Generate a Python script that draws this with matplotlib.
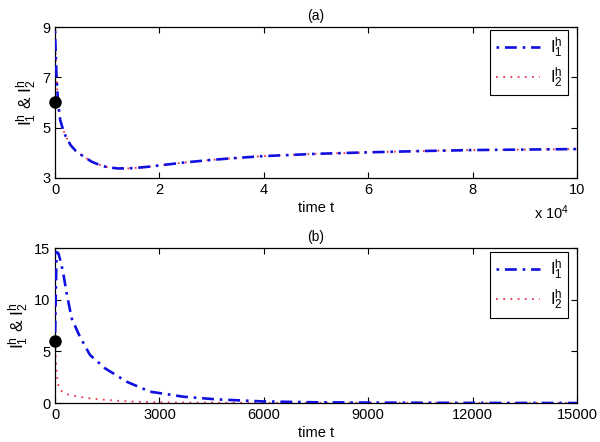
import matplotlib
matplotlib.use("Agg")
import matplotlib.pyplot as plt
from matplotlib.lines import Line2D

plt.rcParams['font.family'] = ['Liberation Sans', 'DejaVu Sans']
plt.rcParams['mathtext.fontset'] = 'custom'
plt.rcParams['mathtext.rm'] = 'Liberation Sans'
plt.rcParams['mathtext.it'] = 'Liberation Sans'

# ---- Panel (a) data ----
t_a = [0, 150, 300, 500, 700, 1000, 1500, 2000, 3000, 4000, 5500, 7000, 8500,
       10000, 12000, 14000, 16000, 18000, 20000, 25000, 30000, 35000, 40000,
       50000, 60000, 70000, 80000, 90000, 100000]
I1_a = [8.85, 7.8, 7.0, 6.3, 5.8, 5.3, 4.95, 4.68, 4.3, 4.07, 3.85, 3.65, 3.52,
        3.43, 3.38, 3.38, 3.41, 3.45, 3.50, 3.62, 3.72, 3.80, 3.87,
        3.96, 4.02, 4.07, 4.11, 4.13, 4.15]
I2_a = list(I1_a)

# ---- Panel (b) data ----
t_b1 = [0, 20, 45, 96, 170, 240, 335, 478, 623, 718, 1005, 1437, 2060, 2730,
        3690, 4650, 6000, 7500, 9000, 12000, 15000]
I1_b = [6.0, 10.0, 14.6, 14.5, 13.6, 12.5, 10.6, 8.2, 7.1, 6.4, 4.65, 3.36,
        2.06, 1.1, 0.61, 0.35, 0.15, 0.07, 0.04, 0.01, 0.0]
t_b2 = [0, 20, 40, 70, 110, 150, 250, 400, 700, 1000, 1300, 1800, 2300, 3000,
        4000, 6000, 15000]
I2_b = [6.0, 4.5, 3.3, 2.2, 1.5, 1.25, 1.0, 0.8, 0.6, 0.45, 0.35, 0.22, 0.13,
        0.07, 0.04, 0.02, 0.0]

init_t = [0]
init_v = [6]

xticks_a = [0, 20000, 40000, 60000, 80000, 100000]
xticklabels_a = ['0', '2', '4', '6', '8', '10']
yticks_a = [3, 5, 7, 9]
xticks_b = [0, 3000, 6000, 9000, 12000, 15000]
yticks_b = [0, 5, 10, 15]

ylab = r'$\mathregular{I_1^h}$ & $\mathregular{I_2^h}$'
lab1 = r'$\mathregular{I_1^h}$'
lab2 = r'$\mathregular{I_2^h}$'

BLUE = '#1010e0'
RED = '#e8384f'
DASHDOT = (0, (1, 2.2, 4.5, 2.2))
DOTTED = (0, (1, 3))

fig = plt.figure(figsize=(6, 4.42), dpi=100)
ax1 = fig.add_axes([0.0917, 0.5973, 0.87, 0.3416])
ax2 = fig.add_axes([0.0917, 0.0882, 0.87, 0.3507])

def style(ax):
    ax.tick_params(direction='in', top=True, right=True, length=4, labelsize=10.5,
                   width=0.8)
    for s in ax.spines.values():
        s.set_linewidth(0.9)

for ax, tx, y1, tx2, y2, title, legy in [
        (ax1, t_a, I1_a, t_a, I2_a, '(a)', 0.98),
        (ax2, t_b1, I1_b, t_b2, I2_b, '(b)', 0.974)]:
    ax.plot(tx2, y2, color=RED, linestyle=DOTTED, lw=1.3, zorder=2)
    ax.plot(tx, y1, color=BLUE, linestyle=DASHDOT, lw=1.9, zorder=3)
    ax.plot(init_t, init_v, 'o', color='black', ms=8, clip_on=False, zorder=5)
    ax.set_title(title, fontsize=10, pad=5)
    ax.set_xlabel('time t', fontsize=10.5, labelpad=3)
    ax.set_ylabel(ylab, fontsize=12.5, labelpad=2)
    handles = [Line2D([], [], color=BLUE, linestyle=DASHDOT, lw=1.9),
               Line2D([], [], color=RED, linestyle=DOTTED, lw=1.3)]
    leg = ax.legend(handles, [lab1, lab2], loc='upper right', fontsize=12,
                    fancybox=False, edgecolor='black', framealpha=1,
                    handlelength=2.6, borderaxespad=0.0, labelspacing=0.3,
                    bbox_to_anchor=(0.983, legy), handletextpad=0.6,
                    borderpad=0.35)
    leg.get_frame().set_linewidth(0.8)
    style(ax)

ax1.set_xlim(0, 100000)
ax1.set_ylim(3, 9)
ax1.set_xticks(xticks_a)
ax1.set_xticklabels(xticklabels_a)
ax1.set_yticks(yticks_a)
ax1.text(0.985, -0.165, r'x 10$^{4}$', transform=ax1.transAxes, ha='right',
         va='top', fontsize=10.5)

ax2.set_xlim(0, 15000)
ax2.set_ylim(0, 15)
ax2.set_xticks(xticks_b)
ax2.set_yticks(yticks_b)

fig.savefig('out.png', dpi=100)
